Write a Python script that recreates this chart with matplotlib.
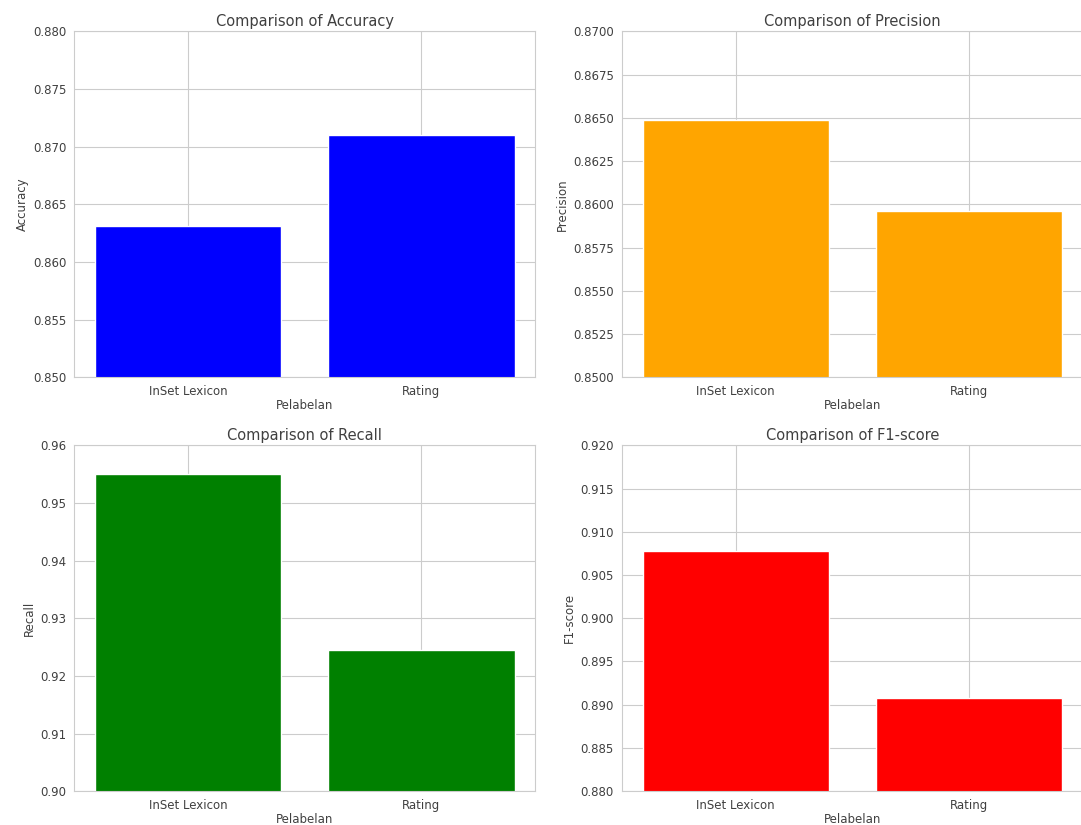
import matplotlib
matplotlib.use('Agg')
import matplotlib.pyplot as plt
import seaborn as sns

sns.set_style('whitegrid')

labels = ['InSet Lexicon', 'Rating']
accuracy = [0.8631, 0.8710]
precision = [0.86486, 0.8596]
recall = [0.9551, 0.9245]
f1 = [0.9078, 0.8908]

metrics = ['Accuracy', 'Precision', 'Recall', 'F1-score']
values = [accuracy, precision, recall, f1]
colors = ['blue', 'orange', 'green', 'red']
ylims = [(0.85, 0.88), (0.85, 0.87), (0.90, 0.96), (0.88, 0.92)]

fig, axes = plt.subplots(2, 2, figsize=(10.81, 8.25), dpi=100)
fig.subplots_adjust(left=0.0685, right=1.0019, top=0.962, bottom=0.041,
                    wspace=0.1866, hspace=0.197)

for ax, name, vals, c, lim in zip(axes.flat, metrics, values, colors, ylims):
    ax.bar(labels, vals, color=c)
    ax.set_ylim(lim)
    ax.set_title('Comparison of ' + name, fontsize=10.5, pad=4, color='.25')
    ax.set_xlabel('Pelabelan', fontsize=8.5, labelpad=1, color='.25')
    ax.set_ylabel(name, fontsize=8.5, labelpad=3, color='.25')
    ax.tick_params(axis='both', labelsize=8.5, pad=2, labelcolor='.25')
    if name == 'Precision':
        ax.set_yticks([0.85, 0.8525, 0.855, 0.8575, 0.86, 0.8625, 0.865, 0.8675, 0.87])
        ax.set_yticklabels(['%.4f' % v for v in ax.get_yticks()])
    elif name == 'Recall':
        ax.set_yticklabels(['%.2f' % v for v in ax.get_yticks()])
    else:
        ax.set_yticklabels(['%.3f' % v for v in ax.get_yticks()])

plt.savefig('out.png')
